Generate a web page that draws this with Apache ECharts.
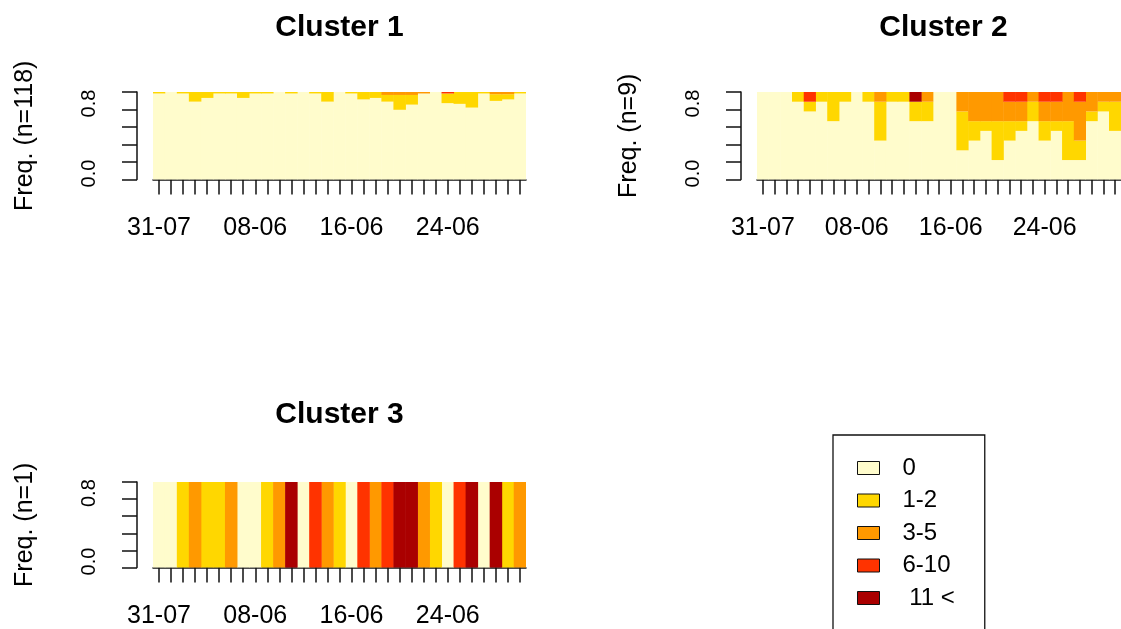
<!DOCTYPE html>
<html>
<head>
<meta charset="utf-8">
<title>State distribution by cluster</title>
<script src="https://cdn.jsdelivr.net/npm/echarts@6/dist/echarts.min.js"></script>
<style>
  html, body { margin: 0; padding: 0; background: #fff; }
  #main { width: 1121px; height: 629px; }
</style>
</head>
<body>
<div id="main"></div>
<script>
// time points (x axis categories), a label every 8th one
var days = ['31-07', '01-06', '02-06', '03-06', '04-06', '05-06', '06-06', '07-06',
            '08-06', '09-06', '10-06', '11-06', '12-06', '13-06', '14-06', '15-06',
            '16-06', '17-06', '18-06', '19-06', '20-06', '21-06', '22-06', '23-06',
            '24-06', '25-06', '26-06', '27-06', '28-06', '29-06', '30-06'];
var xLabelEvery = 8;
var yLabelVals = [0, 0.8];
var yLabelText = ['0.0', '0.8'];

var states = ['0', '1-2', '3-5', '6-10', ' 11 <'];
var stateColors = ['#FFFCCC', '#FFD700', '#FF9900', '#FF3300', '#AA0000'];

var clusterNames = ['Cluster 1', 'Cluster 2', 'Cluster 3'];
var clusterN = [118, 9, 1];

// cluster 1 (n=118), counts per state
var c1_0 = [116,118,116,105,110,116,116,110,116,116,118,116,118,116,105,118,116,108,110,105,94,101,116,118,103,102,97,116,106,108,116];
var c1_1 = [2,0,2,13,8,2,2,8,2,2,0,2,0,2,13,0,2,10,8,9,20,13,0,0,13,16,21,2,9,7,2];
var c1_2 = [0,0,0,0,0,0,0,0,0,0,0,0,0,0,0,0,0,0,0,4,4,4,2,0,0,0,0,0,3,3,0];
var c1_3 = [0,0,0,0,0,0,0,0,0,0,0,0,0,0,0,0,0,0,0,0,0,0,0,0,2,0,0,0,0,0,0];
var c1_4 = [0,0,0,0,0,0,0,0,0,0,0,0,0,0,0,0,0,0,0,0,0,0,0,0,0,0,0,0,0,0,0];

// cluster 2 (n=9)
var c2_0 = [9,9,9,8,7,8,6,8,9,8,4,8,8,6,6,9,9,3,4,5,2,4,5,6,4,5,2,2,6,7,5];
var c2_1 = [0,0,0,1,1,1,3,1,0,1,4,1,1,2,2,0,0,4,2,1,4,2,1,2,2,1,4,2,1,1,3];
var c2_2 = [0,0,0,0,0,0,0,0,0,0,1,0,0,0,1,0,0,2,3,3,3,2,2,1,2,2,3,4,2,1,1];
var c2_3 = [0,0,0,0,1,0,0,0,0,0,0,0,0,0,0,0,0,0,0,0,0,1,1,0,1,1,0,1,0,0,0];
var c2_4 = [0,0,0,0,0,0,0,0,0,0,0,0,0,1,0,0,0,0,0,0,0,0,0,0,0,0,0,0,0,0,0];

// cluster 3 (n=1)
var c3_0 = [1,1,0,0,0,0,0,1,1,0,0,0,1,0,0,0,1,0,0,0,0,0,0,0,1,0,0,1,0,0,0];
var c3_1 = [0,0,1,0,1,1,0,0,0,1,0,0,0,0,0,1,0,0,0,0,0,0,0,1,0,0,0,0,0,1,0];
var c3_2 = [0,0,0,1,0,0,1,0,0,0,1,0,0,0,1,0,0,0,1,0,0,0,1,0,0,0,0,0,0,0,1];
var c3_3 = [0,0,0,0,0,0,0,0,0,0,0,0,0,1,0,0,0,1,0,1,0,0,0,0,0,1,0,0,0,0,0];
var c3_4 = [0,0,0,0,0,0,0,0,0,0,0,1,0,0,0,0,0,0,0,0,1,1,0,0,0,0,1,0,1,0,0];

var counts = [
    [c1_0, c1_1, c1_2, c1_3, c1_4],
    [c2_0, c2_1, c2_2, c2_3, c2_4],
    [c3_0, c3_1, c3_2, c3_3, c3_4]
];

var font = "'Liberation Sans', Arial, Helvetica, sans-serif";
var ink = '#111';

// panel positions
var panels = [
    {left: 153, top: 92, width: 373, height: 87.5, titleTop: 13},
    {left: 757, top: 92, width: 373, height: 87.5, titleTop: 13},
    {left: 153, top: 482, width: 373, height: 87.5, titleTop: 400}
];

var grids = [], xAxes = [], yAxes = [], titles = [], series = [];

panels.forEach(function (p, i) {
    grids.push({left: p.left, top: p.top, width: p.width, height: p.height});

    titles.push({
        text: clusterNames[i],
        left: p.left + p.width / 2,
        top: p.titleTop,
        textAlign: 'center',
        padding: 0,
        textStyle: {fontSize: 30, fontWeight: 'bold', color: '#000', fontFamily: font}
    });

    xAxes.push({
        type: 'category',
        gridIndex: i,
        data: days,
        offset: 2.5,
        axisLine: {show: true, lineStyle: {color: ink, width: 1.5}},
        axisTick: {show: true, alignWithLabel: true, interval: 0, length: 15, lineStyle: {color: ink, width: 1.5}},
        axisLabel: {
            interval: function (idx) { return idx % xLabelEvery === 0; },
            margin: 34,
            fontSize: 25, color: '#000', fontFamily: font
        },
        splitLine: {show: false}
    });

    yAxes.push({
        type: 'value',
        gridIndex: i,
        min: 0, max: 1, interval: 0.2,
        offset: 16,
        name: 'Freq. (n=' + clusterN[i] + ')',
        nameLocation: 'middle',
        nameRotate: 90,
        nameGap: 99,
        nameTextStyle: {fontSize: 25, color: '#000', fontFamily: font},
        axisLine: {show: true, lineStyle: {color: ink, width: 1.5}},
        axisTick: {show: true, length: 15, lineStyle: {color: ink, width: 1.5}},
        axisLabel: {
            rotate: 90, margin: 38, fontSize: 20, color: '#000', fontFamily: font,
            padding: [0, 0, 0, 12],
            formatter: function (v) {
                for (var k = 0; k < yLabelVals.length; k++) {
                    if (Math.abs(v - yLabelVals[k]) < 1e-9) return yLabelText[k];
                }
                return '';
            }
        },
        splitLine: {show: false}
    });

    states.forEach(function (s, j) {
        series.push({
            type: 'bar',
            name: s,
            xAxisIndex: i,
            yAxisIndex: i,
            stack: 'cluster' + i,
            barWidth: '104%',
            silent: true,
            itemStyle: {color: stateColors[j], borderWidth: 0},
            emphasis: {disabled: true},
            data: counts[i][j].map(function (c) { return c / clusterN[i]; })
        });
    });
});

var myChart = echarts.init(document.getElementById('main'), null, {renderer: 'canvas'});

var option = {
    animation: false,
    backgroundColor: '#fff',
    title: titles,
    grid: grids,
    xAxis: xAxes,
    yAxis: yAxes,
    legend: {
        data: states,
        orient: 'vertical',
        left: 833,
        top: 435,
        height: 320,
        selectedMode: false,
        icon: 'rect',
        itemWidth: 22,
        itemHeight: 13,
        itemGap: 8.5,
        padding: [21, 30, 45, 24],
        borderColor: ink,
        borderWidth: 1.3,
        itemStyle: {borderColor: ink, borderWidth: 1},
        textStyle: {fontSize: 24, lineHeight: 24, color: '#000', fontFamily: font, padding: [0, 0, 0, 18]}
    },
    series: series
};

myChart.setOption(option);
</script>
</body>
</html>
